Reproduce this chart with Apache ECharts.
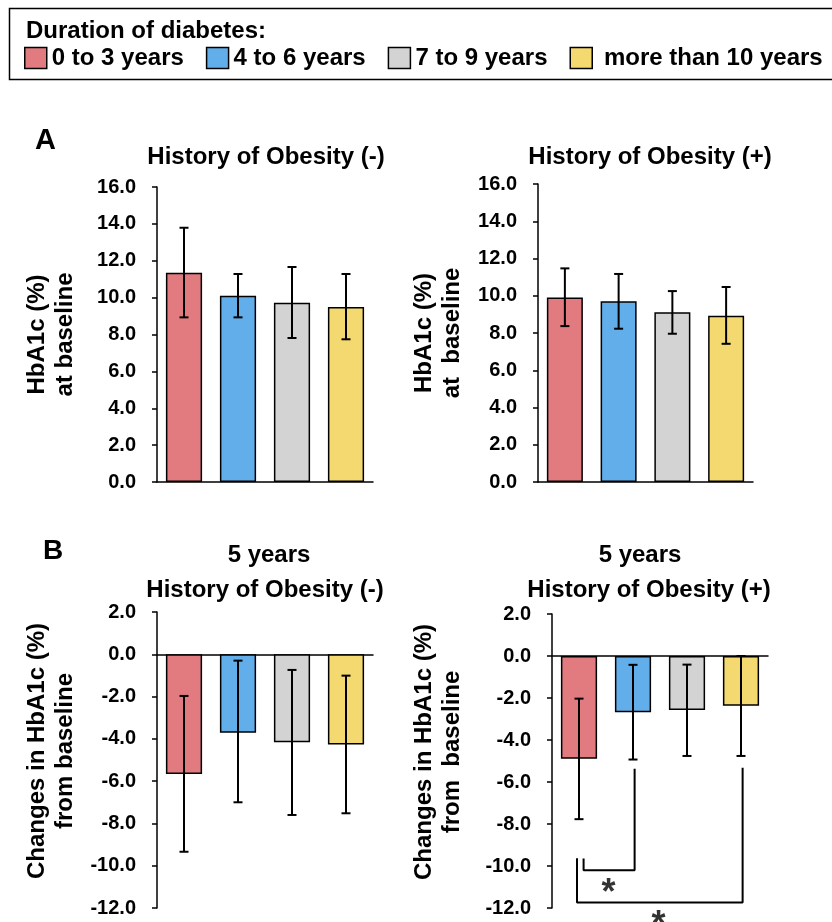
<!DOCTYPE html>
<html><head><meta charset="utf-8">
<script src="https://cdn.jsdelivr.net/npm/echarts@6/dist/echarts.min.js"></script>
<style>html,body{margin:0;padding:0;background:#fff}#chart{width:832px;height:922px}</style>
</head><body><div id="chart"></div>
<script>
// ---- data ----
const categories = ['0 to 3 years', '4 to 6 years', '7 to 9 years', 'more than 10 years'];
const colors = ['#E27B7F', '#62AEEA', '#D3D3D3', '#F4D970'];

// Panel A: HbA1c at baseline (mean, error bar low/high)
const baseNegMean = [11.35, 10.1, 9.72, 9.49];
const baseNegLow  = [8.93, 8.93, 7.81, 7.74];
const baseNegHigh = [13.79, 11.28, 11.66, 11.28];
const basePosMean = [9.91, 9.70, 9.11, 8.93];
const basePosLow  = [8.37, 8.23, 7.96, 7.42];
const basePosHigh = [11.47, 11.17, 10.25, 10.47];

// Panel B: change from baseline at 5 years
const chgNegMean = [-5.66, -3.71, -4.16, -4.27];
const chgNegLow  = [-9.34, -7.0, -7.60, -7.52];
const chgNegHigh = [-1.97, -0.30, -0.74, -1.01];
const chgPosMean = [-4.89, -2.68, -2.57, -2.37];
const chgPosLow  = [-7.77, -4.93, -4.76, -4.76];
const chgPosHigh = [-2.03, -0.42, -0.41, 0.0];

// tick labels
const ticksA = [0, 2, 4, 6, 8, 10, 12, 14, 16];
const ticksB = [-12, -10, -8, -6, -4, -2, 0, 2];

// significance brackets (category-position, value) in panel B (+)
const bracket1 = [[0.085, -9.64], [0.085, -10.2], [1.03, -10.2], [1.03, -5.37]];
const bracket2 = [[-0.037, -9.63], [-0.037, -11.74], [3.03, -11.74], [3.03, -5.32]];
const stars = [[0.548, -11.35], [1.474, -12.85]];

// ---- chart ----
const FONT = "'Liberation Sans', Arial, sans-serif";
const chart = echarts.init(document.getElementById('chart'), null, {renderer: 'canvas'});

const grids = [
  {left: 157, top: 187, width: 216, height: 295},
  {left: 538, top: 184, width: 215, height: 298},
  {left: 157, top: 612, width: 216, height: 296},
  {left: 552, top: 614, width: 216, height: 294}
];

const yNames = [
  'HbA1c (%)\nat baseline',
  'HbA1c (%)\nat  baseline',
  'Changes in HbA1c (%)\nfrom baseline',
  'Changes in HbA1c (%)\nfrom  baseline'
];
const nameGaps = [78, 72, 78, 86];
const namePads = [[0,0,0,0],[0,0,0,0],[0,0,0,18],[0,0,0,18]];

function yAxis(i, ticks) {
  return {
    type: 'value', gridIndex: i,
    min: ticks[0], max: ticks[ticks.length - 1], interval: ticks[1] - ticks[0],
    splitLine: {show: false},
    axisLine: {show: true, onZero: false, lineStyle: {color: '#000', width: 1.5}},
    axisTick: {show: true, inside: false, length: 5, lineStyle: {color: '#000', width: 1.5}},
    axisLabel: {color: '#000', fontFamily: FONT, fontWeight: 'bold', fontSize: 20, margin: 21,
      formatter: v => v.toFixed(1)},
    name: yNames[i], nameLocation: 'middle', nameRotate: 90, nameGap: nameGaps[i],
    nameTextStyle: {color: '#000', fontFamily: FONT, fontWeight: 'bold', fontSize: 24, lineHeight: 28,
      padding: namePads[i]}
  };
}
function xAxis(i) {
  return {
    type: 'category', gridIndex: i, data: categories,
    axisLine: {show: true, onZero: true, lineStyle: {color: '#000', width: 1.5}},
    axisTick: {show: false}, axisLabel: {show: false}, splitLine: {show: false}
  };
}

function barSeries(i, means) {
  return categories.map((c, k) => ({
    type: 'bar', name: c, xAxisIndex: i, yAxisIndex: i, stack: 'p' + i,
    barWidth: '67%',
    data: means.map((v, j) => j === k ? v : '-'),
    itemStyle: {color: colors[k], borderColor: '#000', borderWidth: 1.5},
    emphasis: {disabled: true},
    z: 2
  }));
}
function errSeries(i, low, high) {
  return {
    type: 'custom', xAxisIndex: i, yAxisIndex: i, z: 5, silent: true,
    data: low.map((l, j) => [j, l, high[j]]),
    renderItem: function (params, api) {
      const x = api.value(0);
      const pLo = api.coord([x, api.value(1)]);
      const pHi = api.coord([x, api.value(2)]);
      const hw = 4.5;
      const st = {stroke: '#000', lineWidth: 2};
      return {type: 'group', children: [
        {type: 'line', shape: {x1: pLo[0], y1: pLo[1], x2: pHi[0], y2: pHi[1]}, style: st},
        {type: 'line', shape: {x1: pLo[0] - hw, y1: pLo[1], x2: pLo[0] + hw, y2: pLo[1]}, style: st},
        {type: 'line', shape: {x1: pHi[0] - hw, y1: pHi[1], x2: pHi[0] + hw, y2: pHi[1]}, style: st}
      ]};
    }
  };
}

const titleStyle = {color: '#000', fontFamily: FONT, fontWeight: 'bold', fontSize: 24};
function t(text, x, y) {
  return {text: text, left: x, top: y, textAlign: 'center', textVerticalAlign: 'middle', padding: 0,
    textStyle: titleStyle};
}

const option = {
  animation: false,
  backgroundColor: '#fff',
  title: [
    t('History of Obesity (-)', 266, 157),
    t('History of Obesity (+)', 650, 157),
    t('5 years', 269, 555),
    t('History of Obesity (-)', 265, 590),
    t('5 years', 640, 555),
    t('History of Obesity (+)', 649, 590),
    {text: 'A', left: 35, top: 141, textVerticalAlign: 'middle', textAlign: 'left', padding: 0,
      textStyle: {color: '#000', fontFamily: FONT, fontWeight: 'bold', fontSize: 29}},
    {text: 'B', left: 43, top: 551, textVerticalAlign: 'middle', textAlign: 'left', padding: 0,
      textStyle: {color: '#000', fontFamily: FONT, fontWeight: 'bold', fontSize: 28}},
    {text: 'Duration of diabetes:', left: 26, top: 31, textVerticalAlign: 'middle', textAlign: 'left', padding: 0,
      textStyle: titleStyle}
  ],
  graphic: [
    {type: 'rect', shape: {x: 9.5, y: 8.5, width: 840, height: 71}, style: {fill: 'none', stroke: '#000', lineWidth: 1.5}, silent: true}
  ],
  legend: {
    data: categories, left: 24, top: 46, padding: 0, itemGap: 22,
    itemWidth: 22, itemHeight: 21, icon: 'rect', selectedMode: false,
    formatter: name => (name === categories[3] ? ' ' + name : name),
    textStyle: {color: '#000', fontFamily: FONT, fontWeight: 'bold', fontSize: 24},
    itemStyle: {borderColor: '#000', borderWidth: 1.5}
  },
  tooltip: {show: false},
  grid: grids,
  xAxis: [xAxis(0), xAxis(1), xAxis(2), xAxis(3),
    {type: 'value', gridIndex: 3, min: -0.5, max: 3.5, show: false}],
  yAxis: [yAxis(0, ticksA), yAxis(1, ticksA), yAxis(2, ticksB), yAxis(3, ticksB)],
  series: [
    ...barSeries(0, baseNegMean), errSeries(0, baseNegLow, baseNegHigh),
    ...barSeries(1, basePosMean), errSeries(1, basePosLow, basePosHigh),
    ...barSeries(2, chgNegMean), errSeries(2, chgNegLow, chgNegHigh),
    ...barSeries(3, chgPosMean), errSeries(3, chgPosLow, chgPosHigh),
    {type: 'line', xAxisIndex: 4, yAxisIndex: 3, data: bracket1, showSymbol: false, symbol: 'none',
      lineStyle: {color: '#000', width: 2}, silent: true, clip: false, z: 6},
    {type: 'line', xAxisIndex: 4, yAxisIndex: 3, data: bracket2, showSymbol: false, symbol: 'none',
      lineStyle: {color: '#000', width: 2}, silent: true, clip: false, z: 6},
    {type: 'scatter', xAxisIndex: 4, yAxisIndex: 3, data: stars, symbolSize: 1, clip: false, silent: true,
      itemStyle: {color: 'rgba(0,0,0,0)'},
      label: {show: true, position: 'inside', formatter: '*', color: '#000', fontFamily: FONT,
        fontWeight: 'bold', fontSize: 36}, z: 6}
  ]
};
chart.setOption(option);
</script>
</body></html>
